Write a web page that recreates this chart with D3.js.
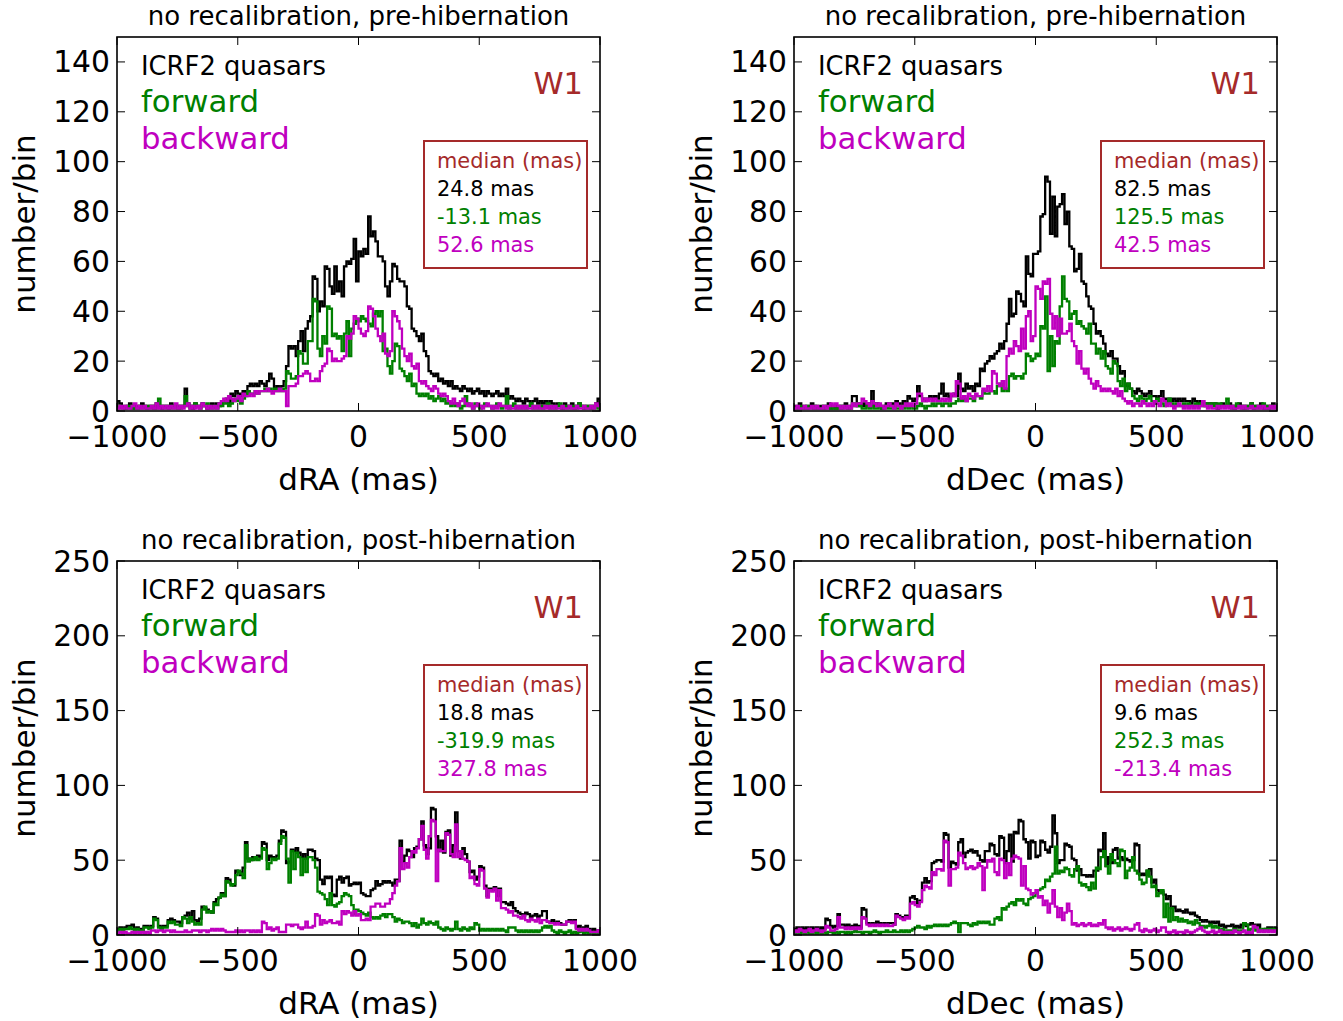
<!DOCTYPE html>
<html>
<head>
<meta charset="utf-8">
<script src="https://cdn.jsdelivr.net/npm/d3@7"></script>
<style>
  body { margin: 0; background: #fff; }
  svg { display: block; font-family: "DejaVu Sans", sans-serif; }
</style>
</head>
<body>
<svg id="chart" width="1343" height="1021"></svg>
<script>
// histogram bins: 10 mas wide, -1000 .. 1000 (200 bins, rows of 20 = 200 mas)
const binEdges = d3.range(-1000, 1001, 10);
const xTicks = [-1000, -500, 0, 500, 1000];

// pre-hibernation, dRA
const p1All = [
  4,3,2,1,2,3,1,2,1,2,3,2,1,2,2,1,3,2,1,2,
  2,1,3,2,2,1,2,2,9,3,2,1,3,2,2,3,2,1,2,3,
  2,3,2,3,4,5,3,7,6,8,7,6,8,7,10,11,10,11,10,12,
  11,10,12,15,13,9,10,9,10,12,18,26,25,26,22,28,32,24,33,36,
  38,54,53,40,44,42,58,57,50,47,58,48,52,46,58,60,59,61,69,52,
  64,62,65,63,78,70,72,68,62,62,60,50,46,52,59,58,53,52,52,50,
  42,41,33,32,30,28,31,24,22,16,15,14,15,12,13,11,12,10,12,9,
  10,9,8,10,9,8,9,7,8,9,7,8,6,8,7,6,7,8,6,7,
  6,9,5,6,5,4,5,4,3,5,4,3,4,5,3,4,3,4,3,4,
  3,2,3,2,1,3,2,2,3,1,2,3,2,1,2,2,1,2,3,5
];
const p1Fwd = [
  1,2,1,1,2,1,2,1,1,2,1,2,1,2,1,2,1,5,2,1,
  2,1,2,1,1,2,1,2,6,2,1,2,3,2,1,2,2,3,2,1,
  2,1,3,2,4,3,2,3,4,5,4,3,5,6,8,7,7,8,7,8,
  8,9,8,9,8,9,8,9,8,9,16,15,13,13,14,24,23,19,19,28,
  28,45,44,25,22,30,27,42,41,30,31,29,30,24,31,36,22,33,35,37,
  36,38,37,36,35,34,39,40,38,40,24,25,18,15,20,27,26,17,16,14,
  12,15,10,11,7,6,7,6,7,5,6,4,5,6,4,5,3,4,2,3,
  2,3,1,2,6,3,2,1,3,2,1,2,3,2,2,1,2,3,2,1,
  2,6,1,2,3,1,2,1,2,1,2,3,1,2,1,2,1,2,3,1,
  2,1,2,3,1,2,1,2,1,2,1,3,2,1,2,1,2,1,2,1
];
const p1Bwd = [
  1,2,1,2,1,1,2,3,1,2,1,2,1,1,2,1,3,1,2,1,
  2,1,2,1,3,1,2,1,2,3,1,2,1,2,1,3,2,1,2,1,
  2,1,3,4,5,4,6,5,4,5,6,4,7,6,6,7,6,8,7,8,
  8,8,9,8,7,8,8,9,8,8,2,10,10,10,11,14,14,15,16,15,
  12,12,13,12,16,18,19,25,24,20,21,20,20,21,22,30,29,31,38,37,
  33,31,30,32,42,41,38,33,30,28,31,23,22,24,40,38,36,33,25,22,
  20,23,18,17,19,12,11,12,10,9,8,10,9,7,6,7,6,4,3,5,
  3,2,4,5,3,2,3,1,2,3,2,1,2,3,2,1,2,1,3,2,
  2,1,2,1,1,2,1,2,1,2,1,1,2,1,2,1,1,2,1,2,
  1,2,1,1,2,1,1,2,1,1,2,1,1,2,1,1,2,1,3,2
];

// pre-hibernation, dDec
const p2All = [
  2,1,3,1,2,1,2,3,1,2,1,2,1,2,3,1,2,1,2,1,
  2,3,1,2,6,6,2,3,2,3,2,3,8,2,3,2,1,2,3,2,
  3,2,4,3,2,4,3,6,5,4,5,10,6,5,4,5,6,5,6,5,
  7,11,6,7,5,6,7,6,15,9,8,11,9,10,8,11,10,17,16,19,
  20,22,21,23,24,27,25,28,35,45,38,39,48,47,44,42,62,55,54,63,
  63,64,78,79,94,92,71,86,70,82,83,87,75,80,66,65,56,57,63,52,
  51,46,42,41,35,31,32,30,27,23,22,24,21,21,18,15,16,10,11,9,
  8,7,9,8,7,6,7,8,6,6,5,6,8,5,4,5,4,5,4,5,
  4,5,4,4,3,5,4,3,4,3,2,3,3,2,3,1,2,3,2,2,
  3,2,1,2,3,2,1,2,2,3,1,2,2,3,1,2,1,2,3,2
];
const p2Fwd = [
  1,1,2,1,1,2,1,1,2,1,1,1,2,1,1,2,1,1,1,2,
  1,2,1,1,3,2,3,2,1,1,2,1,2,1,1,2,1,1,2,1,
  1,2,1,1,2,1,2,1,2,1,1,2,3,2,1,2,2,3,2,3,
  3,2,3,3,2,3,3,4,5,4,5,4,5,5,4,6,6,5,8,7,
  7,8,8,7,10,11,8,9,8,14,15,13,14,14,13,15,23,22,20,21,
  23,22,34,33,46,16,30,18,28,27,42,54,45,44,37,39,40,35,36,34,
  33,31,35,27,27,23,25,21,24,18,17,15,20,19,12,10,13,8,11,9,
  6,5,4,6,5,4,5,6,4,3,5,4,3,2,3,5,3,2,3,2,
  2,3,2,3,2,2,3,2,3,2,3,2,3,2,3,2,3,2,2,5,
  2,1,2,3,2,1,2,1,2,3,1,2,1,2,3,2,1,2,1,2
];
const p2Bwd = [
  1,2,1,1,2,1,1,2,1,2,1,1,2,1,2,3,2,3,2,1,
  2,1,2,1,3,2,3,3,5,4,3,2,4,3,2,3,2,1,2,3,
  2,1,3,2,1,2,3,2,3,2,3,7,7,4,5,4,5,4,5,4,
  4,5,4,5,4,7,6,12,11,5,6,4,7,6,5,7,6,6,9,8,
  10,8,16,15,11,10,12,9,22,25,23,28,26,24,33,25,38,40,28,30,
  50,49,45,52,51,53,39,33,38,30,37,31,31,32,35,28,26,19,24,17,
  15,17,13,11,9,12,10,8,9,8,9,8,7,9,6,8,5,4,3,4,
  2,3,3,2,4,3,2,3,2,4,3,2,5,4,2,3,2,1,2,3,
  2,1,2,1,2,1,2,1,2,4,2,1,2,1,1,2,1,2,1,2,
  1,2,1,1,2,1,2,1,1,2,1,1,2,1,2,1,1,2,1,2
];

// post-hibernation, dRA
const p3All = [
  4,5,4,5,6,6,7,4,5,4,3,6,6,5,6,12,11,6,5,6,
  6,10,11,10,9,9,8,12,13,15,11,16,10,9,11,19,18,17,16,15,
  22,24,25,28,26,38,37,34,33,43,42,40,45,62,51,50,52,51,53,52,
  62,61,50,53,52,51,53,63,70,69,48,49,57,56,58,55,52,54,51,57,
  57,56,51,50,37,34,39,38,39,27,26,37,39,35,38,39,33,34,35,34,
  35,28,27,26,26,30,31,36,33,34,36,35,36,35,33,37,36,63,49,53,
  57,56,52,58,59,64,76,60,54,58,85,84,66,56,63,55,69,70,53,60,
  82,56,51,58,54,49,42,43,37,39,46,45,33,26,31,30,32,26,31,22,
  22,21,20,22,18,16,15,14,13,15,14,12,13,14,12,13,16,16,9,9,
  10,8,9,8,7,7,9,10,9,10,5,6,4,5,6,4,3,4,2,3
];
const p3Fwd = [
  3,4,3,4,4,5,4,3,4,3,3,5,5,4,5,11,10,5,4,5,
  5,9,8,9,7,7,6,12,11,8,12,9,7,8,7,17,19,15,16,15,
  21,20,25,27,26,36,35,33,34,40,43,41,38,60,49,51,50,52,50,51,
  58,57,44,48,51,50,51,61,66,65,51,35,56,44,55,52,40,51,42,52,
  52,50,45,29,28,27,24,20,28,20,19,21,22,26,28,27,26,20,14,17,
  16,15,14,13,15,12,11,12,11,13,14,12,14,14,12,9,11,10,8,9,
  9,8,6,8,5,7,11,8,7,9,8,7,9,5,4,3,5,4,3,4,
  9,4,3,5,4,3,5,4,8,7,3,4,3,4,3,4,3,4,3,4,
  3,2,5,5,5,3,2,3,2,3,2,3,2,3,2,3,5,6,5,6,
  3,2,1,3,2,1,2,3,1,2,1,2,3,1,2,1,2,1,2,1
];
const p3Bwd = [
  1,2,1,2,1,1,2,1,2,1,2,1,2,1,3,3,2,3,3,2,
  3,3,2,3,2,2,2,2,3,2,2,3,3,3,2,3,3,2,3,4,
  3,4,3,4,3,2,2,2,2,3,2,3,2,3,3,2,3,2,3,2,
  9,8,4,5,3,4,5,2,2,2,7,7,6,7,7,5,4,5,9,5,
  5,6,14,13,7,10,8,9,10,8,8,9,7,16,14,16,15,13,16,13,
  14,10,10,11,10,19,19,21,21,19,19,21,21,24,28,33,36,58,44,48,
  45,52,56,55,58,64,73,57,51,66,77,76,36,57,56,56,68,67,54,52,
  74,52,56,51,50,49,38,39,34,33,44,43,31,25,30,29,31,23,30,18,
  18,17,15,16,13,13,12,11,13,10,9,11,10,9,11,8,10,10,9,8,
  8,7,8,7,7,7,9,9,8,9,4,3,4,3,4,3,2,2,2,3
];

// post-hibernation, dDec
const p4All = [
  4,5,4,5,4,5,4,5,4,5,4,5,4,11,10,6,5,6,14,7,
  7,6,7,5,6,7,6,5,18,17,8,7,8,7,9,8,7,8,7,8,
  8,7,14,13,12,11,13,12,25,26,24,21,23,35,38,35,36,48,49,50,
  50,49,68,67,45,49,48,47,62,64,52,55,56,57,55,56,53,50,49,56,
  56,61,60,54,53,66,65,48,56,67,49,69,68,77,76,64,62,51,63,62,
  52,53,63,62,57,55,59,80,68,48,50,50,61,60,59,51,50,43,44,40,
  40,39,40,39,43,43,57,56,68,46,52,48,57,58,51,52,50,51,50,49,
  50,61,60,40,41,40,43,44,35,37,30,28,29,27,24,26,18,19,16,17,
  16,15,17,15,14,15,13,12,10,9,10,9,8,9,8,9,6,7,5,6,
  6,7,5,6,5,7,8,6,7,8,7,6,7,3,3,4,5,5,4,5
];
const p4Fwd = [
  1,2,1,2,1,2,1,1,2,1,2,1,2,1,2,2,1,2,1,2,
  2,1,2,1,2,3,2,2,1,2,2,1,2,3,2,1,2,2,3,2,
  2,3,2,2,3,2,3,2,3,4,5,6,5,5,4,6,5,6,7,6,
  7,6,7,6,7,8,9,8,2,8,8,8,7,6,8,7,9,8,9,8,
  9,7,7,11,12,10,18,17,19,21,22,20,24,23,24,21,20,24,25,26,
  28,30,31,32,37,36,39,41,59,41,43,42,45,44,40,39,44,46,35,33,
  34,32,30,35,31,45,44,52,56,46,41,54,50,48,46,57,56,38,43,45,
  52,43,41,37,34,35,43,39,32,33,26,28,30,12,21,9,18,10,12,9,
  11,9,10,8,9,7,10,8,6,6,5,6,7,5,6,5,3,4,2,3,
  3,2,4,3,2,3,8,7,3,4,5,3,4,3,4,3,4,3,4,3
];
const p4Bwd = [
  3,2,4,3,2,3,4,2,3,4,3,2,3,6,5,3,3,4,12,5,
  5,4,5,4,5,4,5,4,12,11,7,6,7,6,7,6,7,6,7,6,
  6,7,13,12,11,10,12,11,21,22,20,19,22,30,33,32,31,42,40,44,
  44,43,63,62,33,44,44,45,55,53,48,44,45,46,44,45,48,46,30,45,
  50,49,51,42,40,51,50,38,48,40,51,53,52,51,33,46,31,30,27,28,
  30,25,26,20,23,15,21,30,19,12,18,10,15,21,16,7,8,6,7,8,
  6,7,8,6,7,6,8,7,10,5,4,5,3,4,5,3,4,5,4,3,
  4,7,8,3,2,4,3,2,3,4,2,3,5,5,2,1,2,3,1,2,
  2,1,3,2,1,2,3,4,5,3,2,1,2,3,1,2,3,1,2,1,
  2,1,3,2,1,2,3,1,2,1,6,5,2,3,2,3,2,3,2,3
];

const seriesNames = ['ICRF2 quasars', 'forward', 'backward'];
const seriesColors = ['#000000', '#008000', '#bf00bf'];
const brown = '#a52a2a';

const panelTitles = [
  'no recalibration, pre-hibernation', 'no recalibration, pre-hibernation',
  'no recalibration, post-hibernation', 'no recalibration, post-hibernation'
];
const xLabels = ['dRA (mas)', 'dDec (mas)', 'dRA (mas)', 'dDec (mas)'];
const medians = [
  ['24.8 mas', '-13.1 mas', '52.6 mas'],
  ['82.5 mas', '125.5 mas', '42.5 mas'],
  ['18.8 mas', '-319.9 mas', '327.8 mas'],
  ['9.6 mas', '252.3 mas', '-213.4 mas']
];
const yMaxes = [150, 150, 250, 250];
const yTicksPre = [0, 20, 40, 60, 80, 100, 120, 140];
const yTicksPost = [0, 50, 100, 150, 200, 250];

const panels = [
  { left: 117, top: 37, series: [p1All, p1Fwd, p1Bwd], yTicks: yTicksPre },
  { left: 794, top: 37, series: [p2All, p2Fwd, p2Bwd], yTicks: yTicksPre },
  { left: 117, top: 561, series: [p3All, p3Fwd, p3Bwd], yTicks: yTicksPost },
  { left: 794, top: 561, series: [p4All, p4Fwd, p4Bwd], yTicks: yTicksPost }
];

const W = 483, H = 374;
const svg = d3.select('#chart');
const fmt = d => (d < 0 ? '\u2212' + Math.abs(d) : String(d));

panels.forEach((p, i) => {
  const g = svg.append('g').attr('transform', `translate(${p.left},${p.top})`);
  const x = d3.scaleLinear().domain([-1000, 1000]).range([0, W]);
  const y = d3.scaleLinear().domain([0, yMaxes[i]]).range([H, 0]);

  g.append('clipPath').attr('id', 'clip' + i)
    .append('rect').attr('width', W).attr('height', H);

  // step histograms, drawn like histtype='step'
  const line = d3.line().x(d => x(d[0])).y(d => y(d[1]));
  p.series.forEach((vals, k) => {
    const pts = [[binEdges[0], 0]];
    vals.forEach((v, j) => {
      pts.push([binEdges[j], v]);
      pts.push([binEdges[j + 1], v]);
    });
    pts.push([binEdges[binEdges.length - 1], 0]);
    g.append('path')
      .attr('clip-path', `url(#clip${i})`)
      .attr('d', line(pts))
      .attr('fill', 'none')
      .attr('stroke', seriesColors[k])
      .attr('stroke-width', 2.3)
      .attr('stroke-linejoin', 'miter');
  });

  // ticks inward on all four sides
  const tl = 8;
  xTicks.forEach(t => {
    g.append('line').attr('x1', x(t)).attr('x2', x(t)).attr('y1', H).attr('y2', H - tl)
      .attr('stroke', '#000').attr('stroke-width', 1);
    g.append('line').attr('x1', x(t)).attr('x2', x(t)).attr('y1', 0).attr('y2', tl)
      .attr('stroke', '#000').attr('stroke-width', 1);
    g.append('text').attr('x', x(t)).attr('y', H + 36)
      .attr('text-anchor', 'middle').attr('font-size', 29.8).text(fmt(t));
  });
  p.yTicks.forEach(t => {
    g.append('line').attr('x1', 0).attr('x2', tl).attr('y1', y(t)).attr('y2', y(t))
      .attr('stroke', '#000').attr('stroke-width', 1);
    g.append('line').attr('x1', W).attr('x2', W - tl).attr('y1', y(t)).attr('y2', y(t))
      .attr('stroke', '#000').attr('stroke-width', 1);
    g.append('text').attr('x', -7).attr('y', y(t) + 10.5)
      .attr('text-anchor', 'end').attr('font-size', 29.8).text(t);
  });

  g.append('rect').attr('width', W).attr('height', H)
    .attr('fill', 'none').attr('stroke', '#000').attr('stroke-width', 1.6);

  // titles and labels
  g.append('text').attr('x', W / 2).attr('y', -12)
    .attr('text-anchor', 'middle').attr('font-size', 26).text(panelTitles[i]);
  g.append('text').attr('x', W / 2).attr('y', H + 79)
    .attr('text-anchor', 'middle').attr('font-size', 31).text(xLabels[i]);
  g.append('text')
    .attr('transform', `translate(${-82},${H / 2}) rotate(-90)`)
    .attr('text-anchor', 'middle')
    .attr('font-size', 31).text('number/bin');

  // legend-like labels
  g.append('text').attr('x', 24).attr('y', 38).attr('font-size', 25.8)
    .attr('fill', seriesColors[0]).text(seriesNames[0]);
  g.append('text').attr('x', 24).attr('y', 75).attr('font-size', 30.8)
    .attr('fill', seriesColors[1]).text(seriesNames[1]);
  g.append('text').attr('x', 24).attr('y', 112).attr('font-size', 30.8)
    .attr('fill', seriesColors[2]).text(seriesNames[2]);
  g.append('text').attr('x', 466).attr('y', 57).attr('text-anchor', 'end')
    .attr('font-size', 30.5).attr('fill', brown).text('W1');

  // median box
  g.append('rect').attr('x', 307).attr('y', 104).attr('width', 163).attr('height', 127)
    .attr('fill', '#fff').attr('stroke', brown).attr('stroke-width', 2);
  g.append('text').attr('x', 320).attr('y', 131).attr('font-size', 20.9)
    .attr('fill', brown).text('median (mas)');
  medians[i].forEach((m, k) => {
    g.append('text').attr('x', 320).attr('y', 159 + 28 * k).attr('font-size', 20.9)
      .attr('fill', seriesColors[k]).text(m);
  });
});
</script>
</body>
</html>
